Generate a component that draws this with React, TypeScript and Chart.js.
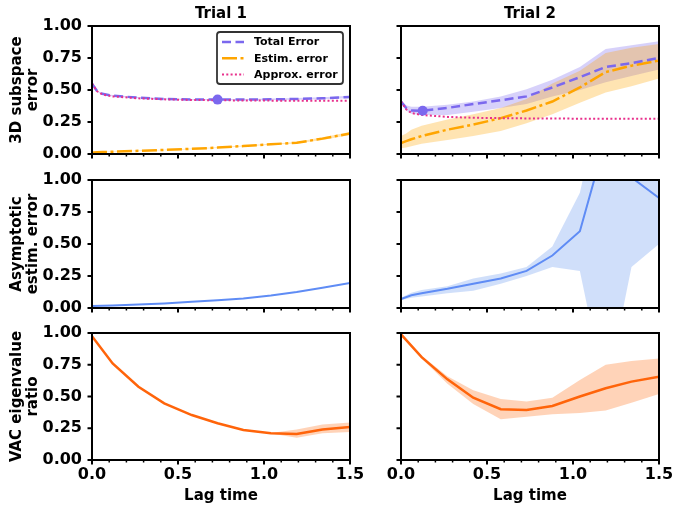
import React, { useEffect, useRef } from 'react';
import { Chart, registerables } from 'chart.js';
Chart.register(...registerables);

const FONT = "'DejaVu Sans', 'Liberation Sans', sans-serif";
Chart.defaults.font.family = FONT;

// ---------- tick specs ----------
const xMajor = [0, 0.5, 1.0, 1.5];
const xTickLabels = ['0.0', '0.5', '1.0', '1.5'];
const xMinor = [0.1, 0.2, 0.3, 0.4, 0.6, 0.7, 0.8, 0.9, 1.1, 1.2, 1.3, 1.4];
const yMajor = [0, 0.25, 0.5, 0.75, 1.0];
const yTickLabels = ['0.00', '0.25', '0.50', '0.75', '1.00'];

// ---------- labels ----------
const colTitles = ['Trial 1', 'Trial 2'];
const rowTitles = [['3D subspace', 'error'], ['Asymptotic', 'estim. error'], ['VAC eigenvalue', 'ratio']];
const xTitle = 'Lag time';
const seriesNames = ['Total Error', 'Estim. error', 'Approx. error'];

// ---------- data: top row, trial 1 ----------
const lagTop1 = [0, 0.01, 0.03, 0.06, 0.12, 0.27, 0.42, 0.58, 0.73, 0.88, 1.04, 1.19, 1.34, 1.5];
const totalT1 = [0.55, 0.53, 0.49, 0.47, 0.455, 0.44, 0.43, 0.425, 0.425, 0.425, 0.427, 0.43, 0.435, 0.445];
const totalT1Hi = [0.555, 0.535, 0.495, 0.475, 0.46, 0.445, 0.435, 0.43, 0.43, 0.43, 0.433, 0.437, 0.443, 0.455];
const totalT1Lo = [0.545, 0.525, 0.485, 0.465, 0.45, 0.435, 0.425, 0.42, 0.42, 0.42, 0.421, 0.423, 0.427, 0.435];
const approxT1 = [0.55, 0.53, 0.49, 0.465, 0.45, 0.435, 0.427, 0.422, 0.42, 0.418, 0.417, 0.416, 0.416, 0.415];
const estimT1 = [0.01, 0.011, 0.013, 0.015, 0.018, 0.025, 0.032, 0.04, 0.05, 0.062, 0.076, 0.088, 0.12, 0.16];
const estimT1Hi = [0.012, 0.013, 0.015, 0.017, 0.02, 0.027, 0.034, 0.043, 0.053, 0.066, 0.08, 0.094, 0.13, 0.172];
const estimT1Lo = [0.008, 0.009, 0.011, 0.013, 0.016, 0.023, 0.03, 0.037, 0.047, 0.058, 0.072, 0.082, 0.11, 0.148];
const bestT1 = [{ x: 0.73, y: 0.425 }];

// ---------- data: top row, trial 2 ----------
const lagTop2 = [0, 0.03, 0.06, 0.12, 0.27, 0.42, 0.58, 0.73, 0.88, 1.04, 1.19, 1.34, 1.5];
const totalT2 = [0.41, 0.36, 0.34, 0.338, 0.36, 0.39, 0.42, 0.45, 0.52, 0.6, 0.68, 0.71, 0.75];
const totalT2Hi = [0.42, 0.38, 0.37, 0.37, 0.385, 0.41, 0.45, 0.505, 0.58, 0.68, 0.82, 0.85, 0.88];
const totalT2Lo = [0.4, 0.34, 0.315, 0.305, 0.305, 0.33, 0.36, 0.39, 0.45, 0.5, 0.56, 0.61, 0.66];
const approxT2 = [0.41, 0.35, 0.32, 0.305, 0.29, 0.283, 0.28, 0.278, 0.277, 0.276, 0.276, 0.275, 0.275];
const estimT2 = [0.085, 0.1, 0.115, 0.14, 0.19, 0.23, 0.28, 0.34, 0.41, 0.52, 0.64, 0.69, 0.73];
const estimT2Hi = [0.14, 0.16, 0.19, 0.22, 0.27, 0.31, 0.36, 0.43, 0.55, 0.65, 0.79, 0.83, 0.86];
const estimT2Lo = [0.045, 0.05, 0.06, 0.08, 0.11, 0.14, 0.18, 0.24, 0.31, 0.4, 0.48, 0.53, 0.59];
const bestT2 = [{ x: 0.126, y: 0.338 }];

// ---------- data: asymptotic estimation error ----------
const lagMain = [0, 0.12, 0.27, 0.42, 0.58, 0.73, 0.88, 1.04, 1.19, 1.34, 1.5];
const asymT1 = [0.015, 0.02, 0.027, 0.036, 0.048, 0.06, 0.075, 0.097, 0.125, 0.158, 0.195];
const lagAsym2 = [0, 0.06, 0.12, 0.27, 0.42, 0.58, 0.73, 0.88, 1.04, 1.19, 1.34, 1.5];
const asymT2 = [0.07, 0.1, 0.115, 0.15, 0.19, 0.23, 0.29, 0.41, 0.6, 1.32, 1.02, 0.86];
const asymT2Hi = [0.08, 0.12, 0.14, 0.17, 0.23, 0.27, 0.32, 0.48, 0.9, 1.8, 1.7, 1.5];
const asymT2Lo = [0.06, 0.08, 0.09, 0.115, 0.135, 0.19, 0.25, 0.32, 0.29, -0.68, 0.32, 0.5];

// ---------- data: VAC eigenvalue ratio ----------
const vacT1 = [0.975, 0.76, 0.577, 0.446, 0.354, 0.289, 0.236, 0.21, 0.205, 0.24, 0.26];
const vacT1Hi = [0.975, 0.76, 0.577, 0.446, 0.354, 0.289, 0.236, 0.212, 0.24, 0.28, 0.295];
const vacT1Lo = [0.975, 0.76, 0.577, 0.446, 0.354, 0.289, 0.236, 0.208, 0.175, 0.21, 0.22];
const vacT2 = [0.99, 0.81, 0.635, 0.49, 0.4, 0.394, 0.425, 0.5, 0.565, 0.617, 0.656];
const vacT2Hi = [1.0, 0.82, 0.66, 0.55, 0.48, 0.46, 0.49, 0.63, 0.75, 0.78, 0.8];
const vacT2Lo = [0.98, 0.8, 0.6, 0.44, 0.32, 0.34, 0.36, 0.37, 0.39, 0.45, 0.52];

// ---------- styles ----------
const cTotal = 'rgb(123,104,238)';
const cTotalBand = 'rgba(123,104,238,0.3)';
const cEstim = 'rgb(255,165,0)';
const cEstimBand = 'rgba(255,165,0,0.3)';
const cApprox = 'rgb(232,48,140)';
const cAsym = 'rgb(95,140,245)';
const cAsymBand = 'rgba(100,149,237,0.3)';
const cVac = 'rgb(255,100,10)';
const cVacBand = 'rgba(255,110,20,0.3)';
const dashTotal = [9, 4.5];
const dashEstim = [15, 3.5, 3, 3.5];
const dashApprox = [2, 2.3];

// ---------- layout ----------
const COLS = [
  { plotL: 92, plotR: 350, canvasL: 0, canvasW: 380 },
  { plotL: 401, plotR: 659, canvasL: 360, canvasW: 330 },
];
const ROWS = [
  { plotT: 26, plotB: 154, canvasT: 0, bottomH: 24 },
  { plotT: 180, plotB: 308, canvasT: 156, bottomH: 24 },
  { plotT: 333, plotB: 460, canvasT: 309, bottomH: 45 },
];

const pts = (xs: number[], ys: number[]) => xs.map((x, i) => ({ x, y: ys[i] }));

function lineDs(label: string, xs: number[], ys: number[], color: string, width: number, dash: number[], order: number) {
  return { label, data: pts(xs, ys), borderColor: color, borderWidth: width, borderDash: dash, pointRadius: 0, fill: false, tension: 0, order };
}
function bandDs(xs: number[], hi: number[], lo: number[], color: string, order: number) {
  return [
    { label: '_hi', data: pts(xs, hi), borderColor: 'transparent', backgroundColor: color, borderWidth: 0, pointRadius: 0, fill: '+1', tension: 0, order },
    { label: '_lo', data: pts(xs, lo), borderColor: 'transparent', backgroundColor: 'transparent', borderWidth: 0, pointRadius: 0, fill: false, tension: 0, order },
  ];
}
function markerDs(p: { x: number; y: number }[]) {
  return { label: '_best', data: p, showLine: false, pointRadius: 5, pointBackgroundColor: cTotal, pointBorderWidth: 0, borderColor: cTotal, order: -1 };
}

const framePlugin = {
  id: 'frame',
  afterDraw(chart: any) {
    const { ctx, chartArea: a, scales } = chart;
    const xs = scales.x, ys = scales.y;
    ctx.save();
    ctx.strokeStyle = '#000';
    ctx.lineCap = 'butt';
    ctx.setLineDash([]);
    ctx.lineWidth = 2;
    xMajor.forEach((v) => {
      const px = xs.getPixelForValue(v);
      ctx.beginPath(); ctx.moveTo(px, a.bottom); ctx.lineTo(px, a.bottom + 4.5); ctx.stroke();
    });
    ctx.lineWidth = 1.5;
    xMinor.forEach((v) => {
      const px = xs.getPixelForValue(v);
      ctx.beginPath(); ctx.moveTo(px, a.bottom); ctx.lineTo(px, a.bottom + 2.5); ctx.stroke();
    });
    ctx.lineWidth = 2;
    yMajor.forEach((v) => {
      const py = ys.getPixelForValue(v);
      ctx.beginPath(); ctx.moveTo(a.left, py); ctx.lineTo(a.left - 4.5, py); ctx.stroke();
    });
    ctx.strokeRect(a.left, a.top, a.right - a.left, a.bottom - a.top);
    ctx.restore();
  },
};

const legendItems = [
  { label: seriesNames[0], color: cTotal, dash: dashTotal, width: 2.5 },
  { label: seriesNames[1], color: cEstim, dash: dashEstim, width: 2.5 },
  { label: seriesNames[2], color: cApprox, dash: dashApprox, width: 2 },
];

const legendPlugin = {
  id: 'boxLegend',
  afterDraw(chart: any) {
    const { ctx, chartArea: a } = chart;
    const w = 126, h = 52;
    const x0 = a.right - 7 - w, y0 = a.top + 6;
    ctx.save();
    ctx.beginPath();
    (ctx as any).roundRect(x0, y0, w, h, 3);
    ctx.fillStyle = 'rgba(255,255,255,0.85)';
    ctx.fill();
    ctx.lineWidth = 1.8;
    ctx.strokeStyle = '#333';
    ctx.stroke();
    ctx.font = `bold 11px ${FONT}`;
    ctx.textBaseline = 'middle';
    ctx.textAlign = 'left';
    legendItems.forEach((it, i) => {
      const y = y0 + 10 + i * 16.3;
      ctx.beginPath();
      ctx.setLineDash(it.dash);
      ctx.lineWidth = it.width;
      ctx.strokeStyle = it.color;
      ctx.moveTo(x0 + 5, y); ctx.lineTo(x0 + 27, y); ctx.stroke();
      ctx.setLineDash([]);
      ctx.fillStyle = '#000';
      ctx.fillText(it.label, x0 + 37, y + 0.5);
    });
    ctx.restore();
  },
};

type Cell = { row: number; col: number; datasets: any[]; legend?: boolean };

const CELLS: Cell[] = [
  {
    row: 0, col: 0, legend: true,
    datasets: [
      markerDs(bestT1),
      lineDs(seriesNames[2], lagTop1, approxT1, cApprox, 2, dashApprox, 0),
      lineDs(seriesNames[0], lagTop1, totalT1, cTotal, 2.5, dashTotal, 1),
      lineDs(seriesNames[1], lagTop1, estimT1, cEstim, 2.5, dashEstim, 2),
      ...bandDs(lagTop1, estimT1Hi, estimT1Lo, cEstimBand, 5),
      ...bandDs(lagTop1, totalT1Hi, totalT1Lo, cTotalBand, 6),
    ],
  },
  {
    row: 0, col: 1,
    datasets: [
      markerDs(bestT2),
      lineDs(seriesNames[2], lagTop2, approxT2, cApprox, 2, dashApprox, 0),
      lineDs(seriesNames[0], lagTop2, totalT2, cTotal, 2.5, dashTotal, 1),
      lineDs(seriesNames[1], lagTop2, estimT2, cEstim, 2.5, dashEstim, 2),
      ...bandDs(lagTop2, estimT2Hi, estimT2Lo, cEstimBand, 5),
      ...bandDs(lagTop2, totalT2Hi, totalT2Lo, cTotalBand, 6),
    ],
  },
  {
    row: 1, col: 0,
    datasets: [lineDs('asym', lagMain, asymT1, cAsym, 2, [], 0)],
  },
  {
    row: 1, col: 1,
    datasets: [lineDs('asym', lagAsym2, asymT2, cAsym, 2, [], 0), ...bandDs(lagAsym2, asymT2Hi, asymT2Lo, cAsymBand, 5)],
  },
  {
    row: 2, col: 0,
    datasets: [lineDs('vac', lagMain, vacT1, cVac, 2.5, [], 0), ...bandDs(lagMain, vacT1Hi, vacT1Lo, cVacBand, 5)],
  },
  {
    row: 2, col: 1,
    datasets: [lineDs('vac', lagMain, vacT2, cVac, 2.5, [], 0), ...bandDs(lagMain, vacT2Hi, vacT2Lo, cVacBand, 5)],
  },
];

function ChartCell({ cell }: { cell: Cell }) {
  const ref = useRef<HTMLCanvasElement>(null);
  const c = COLS[cell.col];
  const r = ROWS[cell.row];
  const w = c.canvasW;
  const h = r.plotB - r.canvasT + r.bottomH;
  useEffect(() => {
    const isTop = cell.row === 0;
    const isBottom = cell.row === 2;
    const isLeft = cell.col === 0;
    const tickFont = { family: FONT, size: 16, weight: 'bold' as const, lineHeight: 1.2 };
    const plugins: any[] = [framePlugin];
    if (cell.legend) plugins.push(legendPlugin);
    const chart = new Chart(ref.current!, {
      type: 'line',
      data: { datasets: cell.datasets },
      plugins,
      options: {
        responsive: false,
        maintainAspectRatio: false,
        animation: false,
        events: [],
        devicePixelRatio: 1,
        layout: {
          padding: {
            top: isTop ? 0 : r.plotT - r.canvasT,
            left: 0,
            bottom: 0,
            right: c.canvasL + c.canvasW - c.plotR,
          },
        },
        plugins: {
          legend: { display: false },
          tooltip: { enabled: false },
          title: {
            display: isTop,
            text: colTitles[cell.col],
            fullSize: false,
            color: '#000',
            font: { family: FONT, size: 15, weight: 'bold', lineHeight: 1.2 },
            padding: { top: 5, bottom: 3 },
          },
        },
        scales: {
          x: {
            type: 'linear',
            min: 0,
            max: 1.5,
            grid: { display: false, drawTicks: false },
            border: { display: false },
            afterBuildTicks: (s: any) => { s.ticks = xMajor.map((v) => ({ value: v })); },
            afterFit: (s: any) => { s.height = r.bottomH; },
            ticks: {
              display: isBottom,
              autoSkip: false,
              maxRotation: 0,
              padding: 5,
              color: '#000',
              font: tickFont,
              callback: (_v: any, i: number) => xTickLabels[i],
            },
            title: {
              display: isBottom,
              text: xTitle,
              color: '#000',
              font: { family: FONT, size: 15, weight: 'bold', lineHeight: 1.2 },
              padding: { top: 0, bottom: 0 },
            },
          },
          y: {
            type: 'linear',
            min: 0,
            max: 1,
            grid: { display: false, drawTicks: false },
            border: { display: false },
            afterBuildTicks: (s: any) => { s.ticks = yMajor.map((v) => ({ value: v })); },
            afterFit: (s: any) => { s.width = c.plotL - c.canvasL; },
            ticks: {
              display: isLeft,
              autoSkip: false,
              padding: 10,
              color: '#000',
              font: tickFont,
              callback: (_v: any, i: number) => yTickLabels[i],
            },
            title: {
              display: isLeft,
              text: rowTitles[cell.row],
              color: '#000',
              font: { family: FONT, size: 15, weight: 'bold', lineHeight: 1.087 },
              padding: { top: 8.6, bottom: 0 },
            },
          },
        },
      } as any,
    });
    return () => chart.destroy();
  }, []);
  return (
    <canvas
      ref={ref}
      width={w}
      height={h}
      style={{ position: 'absolute', left: c.canvasL, top: r.canvasT, width: w, height: h }}
    />
  );
}

export default function App() {
  return (
    <div style={{ position: 'fixed', left: 0, top: 0, width: 674, height: 505, overflow: 'hidden', background: '#fff' }}>
      {CELLS.map((cell, i) => (
        <ChartCell key={i} cell={cell} />
      ))}
    </div>
  );
}
